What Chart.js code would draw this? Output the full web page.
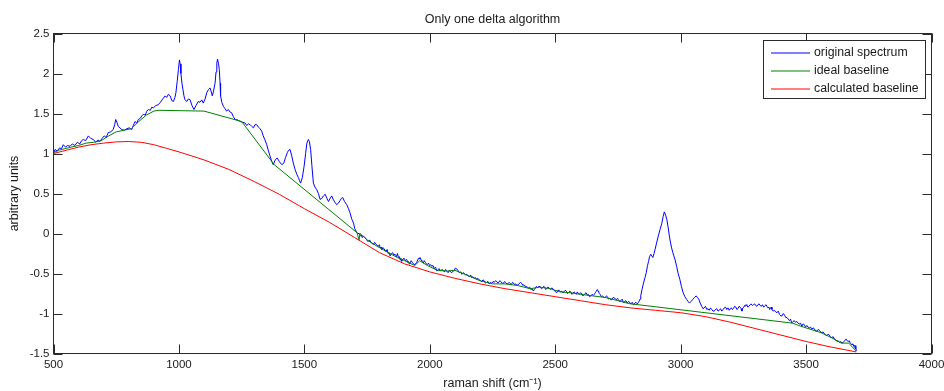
<!DOCTYPE html>
<html>
<head>
<meta charset="utf-8">
<title>Only one delta algorithm</title>
<script src="https://cdn.jsdelivr.net/npm/chart.js@4/dist/chart.umd.min.js"></script>
<style>
  html, body { margin: 0; padding: 0; background: #fff; }
  #chart { display: block; }
</style>
</head>
<body>
<canvas id="chart" width="944" height="391"></canvas>
<script>
// Raman spectrum + baselines
const X_RANGE = [500, 4000];
const Y_RANGE = [-1.5, 2.5];
const X_STEP = 500;
const Y_STEP = 0.5;

const SERIES_LABELS = ['original spectrum', 'ideal baseline', 'calculated baseline'];

// [raman shift, value]
const spectrum = [
  [500,1.00],[506,1.05],[515,1.03],[524,1.07],[532,1.06],[539,1.11],[548,1.08],[556,1.10],[566,1.09],[575,1.12],
  [585,1.10],[595,1.14],[605,1.12],[612,1.16],[619,1.175],[628,1.16],[639,1.22],[648,1.19],[659,1.175],[668,1.14],
  [677,1.17],[685,1.15],[694,1.19],[702,1.22],[710,1.20],[718,1.26],[728,1.27],[738,1.30],[744,1.36],[748,1.425],
  [753,1.39],[758,1.34],[765,1.32],[772,1.30],[782,1.29],[792,1.31],[802,1.32],[812,1.30],[818,1.35],[825,1.40],
  [832,1.38],[838,1.425],[846,1.44],[852,1.47],[858,1.49],[866,1.48],[872,1.53],[878,1.55],[886,1.54],[892,1.58],
  [898,1.57],[908,1.60],[918,1.61],[926,1.64],[935,1.68],[945,1.72],[951,1.70],[958,1.74],[965,1.72],[972,1.66],
  [978,1.65],[984,1.70],[988,1.76],[993,1.90],[998,2.05],[1002,2.17],[1005,2.12],[1008,2.00],[1012,1.88],[1016,1.80],
  [1020,1.72],[1024,1.675],[1031,1.65],[1037,1.68],[1044,1.675],[1052,1.60],[1060,1.55],[1068,1.60],[1077,1.65],[1084,1.64],
  [1091,1.67],[1097,1.63],[1104,1.68],[1111,1.76],[1118,1.80],[1124,1.82],[1129,1.77],[1133,1.72],[1138,1.78],[1144,1.88],
  [1148,2.02],[1151,2.13],[1154,2.18],[1158,2.12],[1161,2.05],[1164,1.88],[1166,1.72],[1171,1.64],[1177,1.59],[1184,1.56],
  [1190,1.53],[1197,1.55],[1203,1.52],[1210,1.51],[1217,1.46],[1224,1.425],[1234,1.42],[1244,1.40],[1254,1.39],[1264,1.38],
  [1270,1.35],[1277,1.37],[1284,1.36],[1290,1.34],[1297,1.32],[1303,1.36],[1310,1.36],[1317,1.33],[1323,1.31],[1330,1.28],
  [1336,1.22],[1343,1.17],[1350,1.11],[1357,1.03],[1363,0.97],[1370,0.90],[1376,0.86],[1384,0.92],[1392,0.945],[1400,0.90],
  [1410,0.86],[1418,0.88],[1425,0.95],[1432,1.01],[1437,1.04],[1443,1.05],[1449,0.98],[1456,0.88],[1463,0.80],[1470,0.74],
  [1476,0.70],[1481,0.66],[1485,0.63],[1492,0.70],[1499,0.84],[1505,1.00],[1510,1.13],[1516,1.175],[1520,1.15],[1525,1.05],
  [1530,0.85],[1536,0.63],[1542,0.58],[1549,0.55],[1556,0.50],[1563,0.425],[1570,0.44],[1576,0.47],[1583,0.49],[1590,0.44],
  [1596,0.40],[1603,0.44],[1609,0.47],[1616,0.42],[1622,0.39],[1629,0.36],[1636,0.38],[1642,0.41],[1648,0.44],[1653,0.45],
  [1660,0.40],[1669,0.36],[1676,0.31],[1682,0.26],[1689,0.18],[1696,0.13],[1701,0.06],[1706,0.03],[1712,0.00],[1719,0.00],
  [1723,-0.03],[1727,-0.02],[1731,-0.05],[1735,-0.03],[1740,-0.05],[1745,-0.06],[1750,-0.09],[1755,-0.10],[1760,-0.08],[1765,-0.11],
  [1770,-0.12],[1775,-0.14],[1780,-0.11],[1785,-0.13],[1790,-0.15],[1795,-0.16],[1799,-0.14],[1802,-0.18],[1806,-0.17],[1809,-0.20],
  [1814,-0.18],[1818,-0.19],[1822,-0.22],[1826,-0.22],[1830,-0.20],[1834,-0.25],[1838,-0.24],[1842,-0.28],[1847,-0.25],[1852,-0.24],
  [1857,-0.27],[1862,-0.26],[1868,-0.29],[1871,-0.25],[1875,-0.30],[1879,-0.29],[1882,-0.33],[1885,-0.31],[1888,-0.35],[1893,-0.32],
  [1898,-0.31],[1903,-0.34],[1908,-0.325],[1912,-0.36],[1915,-0.35],[1918,-0.38],[1921,-0.37],[1926,-0.34],[1930,-0.36],[1935,-0.38],
  [1941,-0.39],[1945,-0.37],[1948,-0.36],[1952,-0.33],[1955,-0.31],[1958,-0.32],[1961,-0.30],[1965,-0.33],[1968,-0.34],[1971,-0.36],
  [1974,-0.37],[1978,-0.34],[1982,-0.36],[1986,-0.38],[1990,-0.39],[1995,-0.37],[1999,-0.40],[2004,-0.39],[2008,-0.41],[2013,-0.40],
  [2018,-0.44],[2023,-0.42],[2028,-0.47],[2033,-0.45],[2038,-0.44],[2043,-0.47],[2048,-0.45],[2053,-0.46],[2058,-0.48],[2063,-0.45],
  [2068,-0.47],[2073,-0.49],[2078,-0.46],[2083,-0.48],[2088,-0.49],[2093,-0.47],[2098,-0.46],[2102,-0.43],[2105,-0.44],[2110,-0.45],
  [2114,-0.47],[2118,-0.49],[2123,-0.48],[2128,-0.51],[2133,-0.49],[2138,-0.50],[2143,-0.52],[2148,-0.51],[2153,-0.53],[2158,-0.54],
  [2163,-0.52],[2167,-0.55],[2172,-0.54],[2177,-0.56],[2182,-0.55],[2187,-0.575],[2192,-0.56],[2197,-0.58],[2202,-0.59],[2207,-0.60],
  [2212,-0.58],[2217,-0.59],[2222,-0.62],[2227,-0.61],[2232,-0.60],[2237,-0.63],[2242,-0.61],[2247,-0.625],[2252,-0.60],[2257,-0.61],
  [2262,-0.59],[2267,-0.60],[2271,-0.62],[2275,-0.61],[2279,-0.59],[2283,-0.60],[2288,-0.62],[2293,-0.625],[2298,-0.60],[2302,-0.61],
  [2307,-0.63],[2311,-0.63],[2316,-0.61],[2320,-0.625],[2325,-0.64],[2330,-0.61],[2334,-0.62],[2338,-0.64],[2343,-0.63],[2347,-0.65],
  [2352,-0.64],[2356,-0.63],[2361,-0.61],[2367,-0.625],[2371,-0.65],[2375,-0.64],[2379,-0.66],[2383,-0.66],[2388,-0.67],[2393,-0.68],
  [2398,-0.67],[2403,-0.70],[2408,-0.69],[2413,-0.72],[2416,-0.70],[2420,-0.69],[2425,-0.66],[2430,-0.675],[2435,-0.66],[2440,-0.665],
  [2445,-0.69],[2450,-0.68],[2454,-0.66],[2458,-0.67],[2462,-0.70],[2466,-0.69],[2471,-0.67],[2476,-0.68],[2481,-0.70],[2486,-0.68],
  [2491,-0.69],[2496,-0.71],[2501,-0.73],[2506,-0.74],[2511,-0.71],[2516,-0.71],[2521,-0.73],[2526,-0.72],[2530,-0.74],[2535,-0.73],
  [2540,-0.71],[2544,-0.72],[2549,-0.75],[2553,-0.74],[2558,-0.72],[2562,-0.73],[2566,-0.76],[2570,-0.75],[2575,-0.73],[2579,-0.74],
  [2584,-0.76],[2588,-0.73],[2592,-0.75],[2597,-0.76],[2601,-0.74],[2606,-0.75],[2610,-0.78],[2614,-0.77],[2619,-0.75],[2623,-0.74],
  [2628,-0.77],[2632,-0.76],[2637,-0.79],[2642,-0.78],[2647,-0.76],[2652,-0.775],[2656,-0.76],[2660,-0.74],[2664,-0.72],[2668,-0.70],
  [2671,-0.72],[2673,-0.73],[2676,-0.75],[2679,-0.76],[2684,-0.79],[2689,-0.78],[2694,-0.80],[2699,-0.80],[2704,-0.78],[2708,-0.79],
  [2713,-0.82],[2717,-0.81],[2722,-0.83],[2726,-0.825],[2731,-0.80],[2735,-0.80],[2740,-0.82],[2744,-0.83],[2748,-0.81],[2752,-0.825],
  [2757,-0.85],[2762,-0.84],[2767,-0.82],[2772,-0.865],[2777,-0.85],[2782,-0.84],[2787,-0.87],[2792,-0.85],[2797,-0.86],[2802,-0.88],
  [2807,-0.86],[2812,-0.89],[2817,-0.87],[2822,-0.86],[2827,-0.88],[2832,-0.86],[2838,-0.82],[2841,-0.78],[2846,-0.70],[2852,-0.62],
  [2858,-0.55],[2863,-0.49],[2868,-0.40],[2872,-0.35],[2876,-0.29],[2881,-0.26],[2885,-0.28],[2889,-0.30],[2894,-0.25],[2898,-0.20],
  [2904,-0.12],[2911,-0.03],[2918,0.05],[2925,0.13],[2930,0.21],[2935,0.27],[2940,0.23],[2945,0.175],[2950,0.08],[2955,-0.03],
  [2960,-0.12],[2964,-0.18],[2969,-0.24],[2973,-0.28],[2978,-0.33],[2984,-0.41],[2990,-0.50],[2997,-0.575],[3003,-0.66],[3010,-0.74],
  [3017,-0.79],[3024,-0.825],[3030,-0.85],[3035,-0.87],[3041,-0.85],[3048,-0.825],[3055,-0.80],[3062,-0.78],[3067,-0.80],[3072,-0.82],
  [3078,-0.87],[3084,-0.91],[3089,-0.94],[3094,-0.93],[3099,-0.91],[3104,-0.95],[3109,-0.94],[3114,-0.96],[3119,-0.93],[3124,-0.95],
  [3129,-0.97],[3134,-0.97],[3139,-0.95],[3144,-0.94],[3149,-0.97],[3154,-0.96],[3159,-0.94],[3164,-0.97],[3169,-0.95],[3174,-0.93],
  [3179,-0.92],[3184,-0.95],[3189,-0.93],[3194,-0.96],[3198,-0.94],[3202,-0.93],[3206,-0.95],[3210,-0.94],[3215,-0.91],[3220,-0.92],
  [3224,-0.95],[3228,-0.94],[3233,-0.91],[3237,-0.92],[3241,-0.94],[3244,-0.97],[3248,-0.93],[3252,-0.92],[3255,-0.90],[3258,-0.91],
  [3261,-0.89],[3264,-0.90],[3268,-0.92],[3272,-0.91],[3277,-0.89],[3281,-0.88],[3286,-0.90],[3290,-0.89],[3295,-0.88],[3299,-0.90],
  [3304,-0.91],[3308,-0.89],[3313,-0.88],[3317,-0.90],[3322,-0.91],[3326,-0.89],[3331,-0.92],[3335,-0.91],[3340,-0.89],[3344,-0.91],
  [3348,-0.93],[3352,-0.92],[3355,-0.95],[3358,-0.94],[3361,-0.92],[3364,-0.95],[3369,-0.97],[3374,-0.96],[3379,-0.98],[3384,-0.99],
  [3389,-0.97],[3394,-1.01],[3399,-1.03],[3404,-1.03],[3409,-1.00],[3414,-1.02],[3419,-1.05],[3424,-1.05],[3429,-1.07],[3434,-1.09],
  [3438,-1.07],[3443,-1.12],[3448,-1.10],[3453,-1.09],[3458,-1.11],[3463,-1.10],[3468,-1.12],[3473,-1.13],[3478,-1.12],[3483,-1.16],
  [3488,-1.13],[3493,-1.14],[3498,-1.17],[3503,-1.15],[3508,-1.17],[3513,-1.18],[3518,-1.17],[3523,-1.20],[3528,-1.18],[3533,-1.19],
  [3538,-1.22],[3543,-1.22],[3548,-1.20],[3553,-1.21],[3558,-1.23],[3563,-1.24],[3568,-1.23],[3573,-1.25],[3578,-1.27],[3583,-1.275],
  [3588,-1.26],[3593,-1.27],[3598,-1.30],[3603,-1.30],[3608,-1.29],[3613,-1.32],[3618,-1.33],[3623,-1.35],[3628,-1.34],[3633,-1.36],
  [3638,-1.35],[3643,-1.37],[3648,-1.36],[3652,-1.35],[3656,-1.33],[3660,-1.32],[3664,-1.34],[3668,-1.35],[3672,-1.34],[3676,-1.37],
  [3680,-1.38],[3683,-1.39],[3687,-1.38],[3690,-1.41],[3693,-1.40],[3696,-1.44],[3698,-1.40],[3700,-1.47]
];

const idealBaseline = [
  [500,1.01],[520,1.04],[545,1.06],[570,1.08],[600,1.10],[630,1.13],[660,1.14],[690,1.16],[720,1.22],[750,1.27],
  [780,1.29],[810,1.31],[840,1.40],[870,1.48],[900,1.53],[920,1.54],[1100,1.53],[1250,1.40],[1380,0.86],[1710,0.01],
  [1718,-0.08],[1722,0.00],[1750,-0.08],[1790,-0.16],[1830,-0.23],[1870,-0.30],[1900,-0.34],[1940,-0.40],[1960,-0.34],[1990,-0.40],
  [2030,-0.46],[2070,-0.47],[2100,-0.46],[2140,-0.51],[2200,-0.59],[2250,-0.63],[2300,-0.63],[2350,-0.65],[2400,-0.69],[2440,-0.67],
  [2480,-0.69],[2520,-0.73],[2560,-0.74],[2600,-0.76],[2650,-0.78],[2700,-0.80],[2750,-0.84],[2800,-0.88],[2830,-0.89],[3445,-1.12],
  [3480,-1.16],[3520,-1.20],[3560,-1.24],[3600,-1.30],[3640,-1.37],[3670,-1.37],[3700,-1.47]
];

const calculatedBaseline = [
  [500,1.00],[550,1.04],[600,1.08],[650,1.11],[700,1.13],[750,1.145],[800,1.15],[850,1.14],[900,1.11],[950,1.065],
  [1000,1.02],[1100,0.92],[1200,0.80],[1300,0.65],[1400,0.49],[1500,0.31],[1600,0.14],[1700,-0.05],[1800,-0.24],[1900,-0.38],
  [2000,-0.48],[2100,-0.56],[2200,-0.63],[2300,-0.69],[2400,-0.74],[2500,-0.79],[2600,-0.84],[2700,-0.89],[2800,-0.93],[2900,-0.96],
  [3000,-0.99],[3100,-1.04],[3200,-1.11],[3300,-1.19],[3400,-1.27],[3500,-1.35],[3600,-1.42],[3700,-1.48]
];

const COLORS = ['#0000ff', '#008000', '#ff0000'];
const AXIS_COLOR = '#2a2a2a';
const FONT = "'Liberation Sans', Arial, sans-serif";

const toPoints = rows => rows.map(([x, y]) => ({ x, y }));

// MATLAB-ish box: full frame plus inward ticks on all four sides
const framePlugin = {
  id: 'frame',
  afterDraw(chart) {
    const { ctx, chartArea: a, scales } = chart;
    const len = 9;
    ctx.save();
    ctx.strokeStyle = AXIS_COLOR;
    ctx.lineWidth = 1;
    ctx.beginPath();
    scales.x.ticks.forEach(t => {
      const px = Math.round(scales.x.getPixelForValue(t.value)) + 0.5;
      ctx.moveTo(px, a.bottom); ctx.lineTo(px, a.bottom - len);
      ctx.moveTo(px, a.top); ctx.lineTo(px, a.top + len);
    });
    scales.y.ticks.forEach(t => {
      const py = Math.round(scales.y.getPixelForValue(t.value)) + 0.5;
      ctx.moveTo(a.left, py); ctx.lineTo(a.left + len, py);
      ctx.moveTo(a.right, py); ctx.lineTo(a.right - len, py);
    });
    ctx.stroke();
    ctx.strokeRect(a.left, a.top, a.right - a.left, a.bottom - a.top);
    ctx.restore();
  }
};

// boxed legend in the upper right corner of the axes
const boxLegendPlugin = {
  id: 'boxLegend',
  afterDraw(chart) {
    const { ctx, chartArea: a } = chart;
    const sets = chart.data.datasets;
    const boxW = 162, boxH = 58;
    const x0 = a.right - 6 - boxW, y0 = a.top + 7;
    ctx.save();
    ctx.fillStyle = '#fff';
    ctx.fillRect(x0, y0, boxW, boxH);
    ctx.strokeStyle = AXIS_COLOR;
    ctx.lineWidth = 1;
    ctx.strokeRect(x0, y0, boxW, boxH);
    ctx.font = '12.3px ' + FONT;
    ctx.textBaseline = 'middle';
    sets.forEach((ds, i) => {
      const y = y0 + 12 + i * 18;
      ctx.strokeStyle = ds.borderColor;
      ctx.beginPath();
      ctx.moveTo(x0 + 7.5, y + 0.5);
      ctx.lineTo(x0 + 46.5, y + 0.5);
      ctx.stroke();
      ctx.fillStyle = '#1a1a1a';
      ctx.fillText(ds.label, x0 + 50.5, y);
    });
    ctx.restore();
  }
};

new Chart(document.getElementById('chart'), {
  type: 'line',
  data: {
    datasets: [
      { label: SERIES_LABELS[0], data: toPoints(spectrum), borderColor: COLORS[0], order: 3 },
      { label: SERIES_LABELS[1], data: toPoints(idealBaseline), borderColor: COLORS[1], order: 2 },
      { label: SERIES_LABELS[2], data: toPoints(calculatedBaseline), borderColor: COLORS[2], order: 1 }
    ]
  },
  options: {
    responsive: false,
    animation: false,
    events: [],
    elements: {
      line: { borderWidth: 1, tension: 0, fill: false },
      point: { radius: 0 }
    },
    layout: { padding: { left: 0, right: 12.5, top: 0, bottom: 0 } },
    plugins: {
      legend: { display: false },
      tooltip: { enabled: false },
      title: {
        display: true,
        text: 'Only one delta algorithm',
        fullSize: false,
        color: '#1a1a1a',
        font: { family: FONT, size: 12.5, weight: 'normal' },
        padding: { top: 12.5, bottom: 6 }
      }
    },
    scales: {
      x: {
        type: 'linear',
        min: X_RANGE[0],
        max: X_RANGE[1],
        afterFit: s => { s.height = 37.5; s.paddingLeft = 0; s.paddingRight = 0; },
        grid: { display: false, drawTicks: false },
        border: { display: false },
        ticks: {
          stepSize: X_STEP,
          padding: 4,
          color: '#1a1a1a',
          font: { family: FONT, size: 11.5 },
          maxRotation: 0,
          callback: v => String(v)
        },
        title: {
          display: true,
          text: 'raman shift (cm\u207B\u00B9)',
          color: '#1a1a1a',
          font: { family: FONT, size: 12.5 },
          padding: { top: 0, bottom: 0 }
        }
      },
      y: {
        type: 'linear',
        min: Y_RANGE[0],
        max: Y_RANGE[1],
        afterFit: s => { s.width = 53.5; },
        grid: { display: false, drawTicks: false },
        border: { display: false },
        ticks: {
          stepSize: Y_STEP,
          padding: 4,
          color: '#1a1a1a',
          font: { family: FONT, size: 11.5 },
          callback: v => String(v)
        },
        title: {
          display: true,
          text: 'arbitrary units',
          color: '#1a1a1a',
          font: { family: FONT, size: 12.5 },
          padding: { top: 7, bottom: 0 }
        }
      }
    }
  },
  plugins: [framePlugin, boxLegendPlugin]
});
</script>
</body>
</html>
